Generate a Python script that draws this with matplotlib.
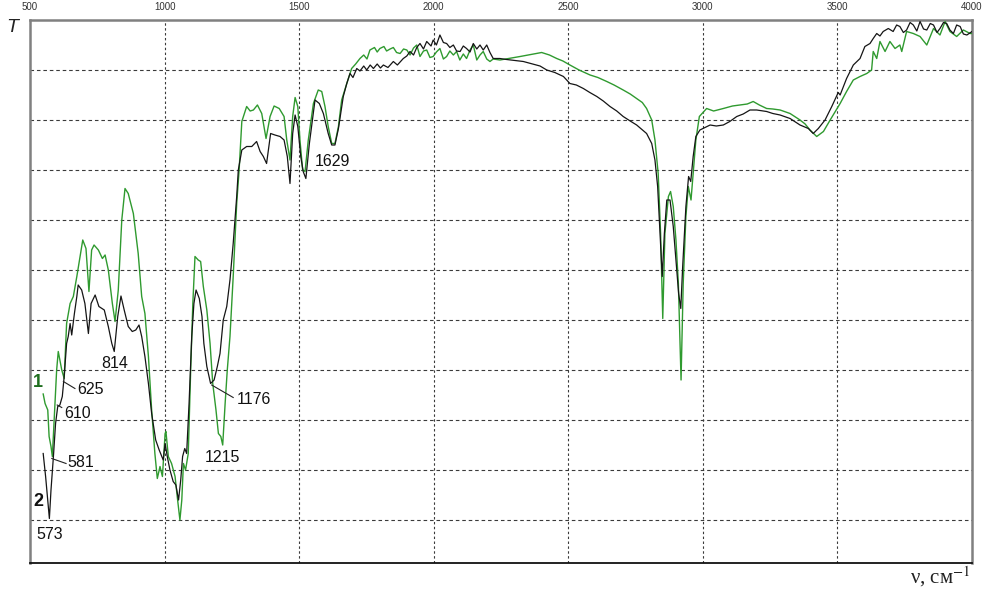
import matplotlib
matplotlib.use("Agg")
import matplotlib.pyplot as plt

# ---- data: wavenumber (cm^-1) and transmittance (arbitrary grid units) ----
wn_1 = [549, 556, 566, 571, 578, 583, 593, 599, 605, 618, 627, 636, 649, 661, 674, 686, 696, 708,
        719, 729, 738, 754, 769, 779, 791, 806, 816, 828, 841, 853, 865, 884, 902, 915, 927, 940,
        952, 964, 973, 983, 992, 1002, 1005, 1014, 1026, 1039, 1047, 1057, 1064, 1070, 1078, 1088,
        1097, 1105, 1113, 1125, 1134, 1144, 1157, 1169, 1179, 1191, 1200, 1209, 1216, 1225, 1233,
        1243, 1255, 1268, 1277, 1287, 1305, 1318, 1330, 1345, 1361, 1377, 1392, 1407, 1426, 1444,
        1454, 1466, 1476, 1485, 1495, 1503, 1513, 1522, 1534, 1553, 1571, 1584, 1596, 1608, 1621,
        1633, 1646, 1658, 1677, 1695, 1710, 1726, 1740, 1752, 1763, 1780, 1790, 1800, 1815, 1825,
        1838, 1850, 1862, 1875, 1888, 1900, 1912, 1925, 1937, 1949, 1962, 1974, 1986, 1998, 2010,
        2023, 2036, 2048, 2060, 2073, 2085, 2097, 2110, 2122, 2135, 2147, 2160, 2172, 2184, 2197,
        2209, 2221, 2246, 2321, 2401, 2430, 2457, 2480, 2506, 2540, 2581, 2610, 2643, 2670, 2704,
        2730, 2754, 2775, 2791, 2810, 2822, 2834, 2843, 2851, 2859, 2872, 2880, 2890, 2900, 2909,
        2919, 2927, 2937, 2946, 2956, 2964, 2974, 2987, 3014, 3040, 3076, 3110, 3138, 3165, 3187,
        3210, 3237, 3260, 3287, 3324, 3361, 3380, 3398, 3423, 3448, 3473, 3503, 3510, 3534, 3559,
        3584, 3609, 3627, 3633, 3646, 3658, 3677, 3695, 3714, 3732, 3739, 3757, 3782, 3807, 3832,
        3857, 3881, 3900, 3918, 3943, 3968, 3993, 4000]
t_1 = [3.52, 3.33, 3.20, 2.67, 2.47, 2.27, 3.33, 4.00, 4.37, 4.00, 3.83, 4.93, 5.33, 5.47, 5.87, 6.27, 6.60, 6.43,
       5.57, 6.40, 6.50, 6.40, 6.23, 6.30, 6.00, 5.33, 4.97, 5.60, 7.00, 7.63, 7.53, 7.13, 6.33, 5.47, 5.13, 4.27,
       3.20, 2.33, 1.83, 2.07, 1.87, 2.73, 2.77, 2.27, 2.13, 1.87, 1.47, 1.00, 1.40, 2.13, 2.00, 2.33,
       4.00, 5.33, 6.27, 6.20, 6.17, 5.67, 5.20, 4.53, 3.73, 3.20, 2.73, 2.67, 2.50, 3.33, 4.00,
       4.67, 5.87, 7.33, 8.00, 8.97, 9.27, 9.18, 9.20, 9.30, 9.13, 8.63, 9.07, 9.28, 9.23, 9.07,
       8.60, 8.20, 9.07, 9.45, 9.27, 8.60, 8.00, 7.97, 8.60, 9.33, 9.60, 9.57, 9.27, 8.87, 8.53,
       8.53, 8.87, 9.40, 9.73, 10.03, 10.12, 10.23, 10.30, 10.22, 10.40, 10.45, 10.36, 10.43, 10.47, 10.38,
       10.42, 10.45, 10.35, 10.33, 10.42, 10.40, 10.30, 10.44, 10.50, 10.27, 10.38, 10.40, 10.25, 10.27, 10.36,
       10.43, 10.22, 10.27, 10.38, 10.30, 10.37, 10.20, 10.32, 10.23, 10.40, 10.50, 10.20, 10.30, 10.37, 10.22,
       10.17, 10.22, 10.20, 10.27, 10.35, 10.30, 10.23, 10.18, 10.10, 10.00, 9.90, 9.85, 9.77, 9.70, 9.60,
       9.52, 9.43, 9.35, 9.23, 9.00, 8.60, 7.93, 6.73, 5.03, 6.73, 7.47, 7.57, 7.27, 6.60, 5.73,
       3.80, 5.73, 7.07, 7.67, 7.40, 7.93, 8.60, 9.07, 9.23, 9.18, 9.23, 9.28, 9.30, 9.32, 9.37,
       9.30, 9.23, 9.22, 9.20, 9.13, 9.00, 8.92, 8.80, 8.67, 8.77, 9.00, 9.27, 9.33, 9.57, 9.80,
       9.87, 9.93, 10.00, 10.37, 10.23, 10.57, 10.37, 10.57, 10.43, 10.50, 10.37, 10.77, 10.73, 10.67, 10.50,
       10.83, 10.70, 10.97, 10.77, 10.67, 10.80, 10.73, 10.73]

wn_2 = [549, 558, 566, 572, 578, 587, 595, 603, 611, 620, 627, 636, 642, 649, 655, 665, 674, 679,
        692, 704, 717, 727, 742, 756, 776, 791, 804, 813, 826, 838, 850, 865, 880, 893, 905, 915,
        927, 940, 952, 967, 980, 995, 1002, 1010, 1020, 1032, 1042, 1052, 1060, 1067, 1075, 1082,
        1091, 1101, 1109, 1117, 1129, 1139, 1146, 1157, 1171, 1184, 1196, 1206, 1218, 1231, 1243,
        1255, 1268, 1274, 1287, 1305, 1324, 1342, 1355, 1367, 1379, 1394, 1410, 1429, 1444, 1456,
        1466, 1476, 1485, 1495, 1506, 1515, 1525, 1538, 1559, 1575, 1590, 1608, 1621, 1633, 1646,
        1664, 1677, 1689, 1700, 1714, 1726, 1740, 1751, 1764, 1776, 1790, 1802, 1813, 1830, 1850,
        1865, 1887, 1900, 1912, 1925, 1937, 1949, 1962, 1974, 1990, 1998, 2010, 2023, 2036, 2048,
        2060, 2073, 2085, 2098, 2110, 2122, 2135, 2147, 2160, 2172, 2184, 2197, 2209, 2221, 2246,
        2271, 2333, 2395, 2420, 2450, 2482, 2506, 2530, 2556, 2580, 2606, 2630, 2655, 2680, 2704,
        2730, 2754, 2791, 2810, 2822, 2832, 2841, 2849, 2857, 2866, 2878, 2890, 2900, 2910, 2918,
        2925, 2937, 2947, 2955, 2964, 2974, 2989, 3027, 3050, 3076, 3100, 3126, 3150, 3175, 3200,
        3237, 3260, 3287, 3324, 3361, 3392, 3410, 3429, 3454, 3479, 3503, 3510, 3534, 3559, 3584,
        3602, 3621, 3633, 3646, 3658, 3670, 3689, 3707, 3720, 3732, 3745, 3757, 3770, 3782, 3795,
        3807, 3820, 3832, 3845, 3857, 3870, 3881, 3894, 3906, 3918, 3931, 3943, 3956, 3968, 3981, 4000]
t_2 = [2.33, 1.87, 1.40, 1.03, 1.60, 2.27, 2.93, 3.27, 3.30, 3.47, 3.87, 4.53, 4.67, 4.93, 4.70, 5.13, 5.47, 5.70,
       5.60, 5.33, 4.73, 5.33, 5.50, 5.27, 5.20, 4.87, 4.53, 4.37, 5.07, 5.48, 5.20, 4.87, 4.77, 4.80, 4.90, 4.67,
       4.27, 3.73, 3.13, 2.60, 2.40, 2.20, 2.53, 2.27, 2.00, 1.77, 1.70, 1.40, 1.80, 2.27, 2.43, 2.33,
       3.33, 4.67, 5.33, 5.60, 5.43, 5.07, 4.53, 4.07, 3.73, 3.80, 4.07, 4.33, 5.00, 5.27, 5.80,
       6.53, 7.47, 8.00, 8.40, 8.47, 8.47, 8.57, 8.37, 8.27, 8.13, 8.73, 8.70, 8.67, 8.60, 8.27,
       7.73, 8.73, 9.10, 8.87, 8.27, 7.97, 7.83, 8.53, 9.40, 9.33, 9.13, 8.73, 8.50, 8.50, 8.83,
       9.47, 9.73, 9.93, 9.85, 10.03, 9.98, 10.08, 10.00, 10.10, 10.03, 10.12, 10.04, 10.10, 10.05, 10.17,
       10.10, 10.23, 10.28, 10.37, 10.30, 10.45, 10.53, 10.42, 10.57, 10.48, 10.60, 10.50, 10.70, 10.55, 10.53,
       10.45, 10.50, 10.38, 10.37, 10.48, 10.43, 10.36, 10.53, 10.42, 10.50, 10.40, 10.50, 10.35, 10.23, 10.23,
       10.21, 10.17, 10.08, 10.00, 9.95, 9.87, 9.73, 9.70, 9.63, 9.55, 9.47, 9.38, 9.27, 9.18, 9.07,
       8.98, 8.90, 8.73, 8.53, 8.20, 7.67, 6.73, 5.87, 6.73, 7.40, 7.40, 6.87, 6.20, 5.53, 5.23,
       6.07, 7.27, 7.87, 7.77, 8.27, 8.67, 8.80, 8.90, 8.88, 8.90, 8.97, 9.07, 9.12, 9.20, 9.20,
       9.17, 9.13, 9.10, 9.03, 8.90, 8.83, 8.73, 8.83, 9.00, 9.27, 9.55, 9.50, 9.83, 10.10, 10.23,
       10.47, 10.53, 10.63, 10.73, 10.68, 10.77, 10.83, 10.77, 10.90, 10.87, 10.75, 10.80, 10.95, 10.90, 10.78,
       10.97, 10.82, 10.80, 10.93, 10.90, 10.75, 10.83, 10.95, 10.93, 10.80, 10.73, 10.90, 10.87, 10.72, 10.70, 10.77]

# peak labels: (text, x, y, leader line start (x, y) or None)
peak_text = ["1629", "814", "625", "610", "581", "573", "1176", "1215"]
peak_x = [1559, 764, 677, 626, 640, 525, 1270, 1150]
peak_y = [8.18, 4.14, 3.60, 3.13, 2.15, 0.71, 3.42, 2.25]
lead_from = [None, None, (624, 3.77), (601, 3.30), (581, 2.23), None, (1175, 3.70), None]
lead_to = [None, None, (667, 3.63), (618, 3.25), (634, 2.13), None, (1255, 3.45), None]

series_names = ["1", "2"]
series_colors = ["#2f9a2f", "#151515"]
series_label_x = [512, 512]
series_label_y = [3.75, 1.37]

x_ticks = [500, 1000, 1500, 2000, 2500, 3000, 3500, 4000]
y_grid = [1, 2, 3, 4, 5, 6, 7, 8, 9, 10]

# ---- figure ----
fig = plt.figure(figsize=(9.85, 5.89), dpi=100)
ax = fig.add_axes([30 / 985, 1 - 563 / 589, 942 / 985, 543 / 589])
ax.set_xlim(500, 4000)
ax.set_ylim(0.14, 11.0)

for xv in x_ticks[1:-1]:
    ax.axvline(xv, color="#3a3a3a", lw=0.8, ls=(0, (2.2, 2.2)), zorder=1)
for yv in y_grid:
    ax.axhline(yv, color="#3a3a3a", lw=0.8, ls=(0, (3.2, 2.6)), zorder=1)

ax.plot(wn_1, t_1, color=series_colors[0], lw=1.0, zorder=3)
ax.plot(wn_2, t_2, color=series_colors[1], lw=0.9, zorder=4)

for txt, x, y in zip(peak_text, peak_x, peak_y):
    ax.text(x, y, txt, ha="left", va="center", fontsize=11.5,
            family="Liberation Sans", color="#111111", zorder=5)
for a, b in zip(lead_from, lead_to):
    if a is not None:
        ax.plot([a[0], b[0]], [a[1], b[1]], color="#222222", lw=0.8, zorder=5)

for name, col, x, y in zip(series_names, series_colors, series_label_x, series_label_y):
    ax.text(x, y, name, ha="left", va="center", fontsize=13, fontweight="bold",
            family="Liberation Sans", color=("#1f6e1f" if name == "1" else "#111111"), zorder=5)

ax.xaxis.tick_top()
ax.set_xticks(x_ticks)
ax.set_xticklabels([str(v) for v in x_ticks], fontsize=7, family="Liberation Sans", color="#333333")
ax.tick_params(axis="x", length=0, pad=5.5)
ax.set_yticks([])

for side in ["left", "top", "right"]:
    ax.spines[side].set_color("#808080")
    ax.spines[side].set_linewidth(1.8)
ax.spines["bottom"].set_color("#111111")
ax.spines["bottom"].set_linewidth(1.3)

fig.text(12 / 985, 1 - 28 / 589, "T", ha="center", va="center", fontsize=14,
         style="italic", family="Liberation Sans", color="#222222")

plt.rcParams["mathtext.fontset"] = "stix"
fig.text(910 / 985, 1 - 577 / 589, "ν, см$^{-1}$", ha="left", va="center", fontsize=15,
         family="Liberation Serif", color="#222222")

fig.savefig("out.png", dpi=100, facecolor="white")
